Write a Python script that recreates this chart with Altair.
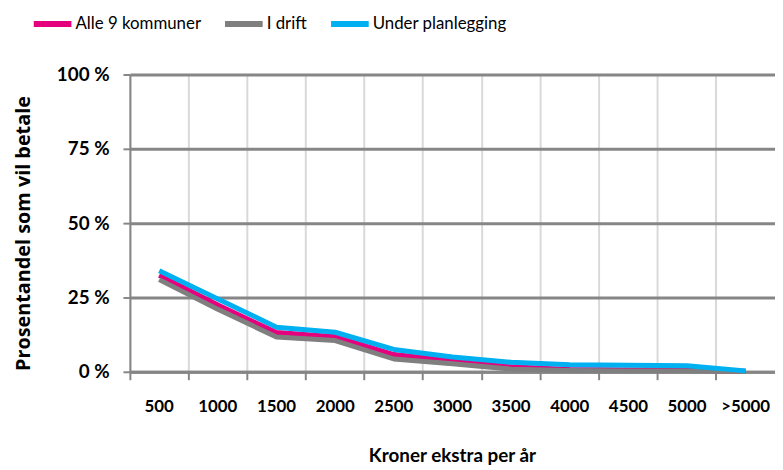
import altair as alt
import pandas as pd

categories = ["500", "1000", "1500", "2000", "2500", "3000", "3500", "4000", "4500", "5000", ">5000"]
series_names = ["Alle 9 kommuner", "I drift", "Under planlegging"]
alle_9 = [32.5, 22.5, 13.2, 11.8, 5.8, 3.8, 1.7, 0.8, 0.6, 0.6, 0.2]
i_drift = [31.0, 21.0, 11.7, 10.5, 4.3, 2.7, 0.9, 0.4, 0.3, 0.3, 0.1]
under_planlegging = [34.0, 24.5, 15.0, 13.3, 7.5, 5.0, 3.2, 2.4, 2.2, 2.0, 0.3]
y_ticks = [0, 25, 50, 75, 100]
colors = ["#e5007d", "#7f7f7f", "#00b0f0"]

rows = []
for name, vals in zip(series_names, [alle_9, i_drift, under_planlegging]):
    for c, v in zip(categories, vals):
        rows.append({"kategori": c, "serie": name, "verdi": v, "ord": series_names.index(name)})
df = pd.DataFrame(rows)

FONT = "Lato"

chart = alt.Chart(df).mark_line(strokeWidth=5, strokeJoin="round").encode(
    x=alt.X(
        "kategori:N",
        sort=categories,
        bandPosition=0.5,
        scale=alt.Scale(type="band", paddingInner=0, paddingOuter=0),
        axis=alt.Axis(
            title="Kroner ekstra per år",
            labelAngle=0,
            bandPosition=0,
            grid=True,
            gridColor="#d9d9d9",
            gridWidth=2,
            domainColor="#868686",
            domainWidth=3,
            tickColor="#868686",
            tickWidth=2,
            tickSize=8,
            labelPadding=19,
            labelFont=FONT,
            labelFontSize=17,
            labelFontWeight="bold",
            labelColor="#000000",
            titleFont=FONT,
            titleFontSize=19,
            titleFontWeight="bold",
            titleColor="#000000",
            titleX=325,
            titleY=85,
            titleBaseline="middle",
        ),
    ),
    y=alt.Y(
        "verdi:Q",
        scale=alt.Scale(domain=[0, 100], nice=False),
        axis=alt.Axis(
            title="Prosentandel som vil betale",
            values=y_ticks,
            labelExpr="datum.value + ' %'",
            grid=True,
            gridColor="#868686",
            gridWidth=3,
            domainColor="#868686",
            domainWidth=2,
            tickColor="#868686",
            tickWidth=2,
            tickSize=7,
            labelPadding=14,
            labelFont=FONT,
            labelFontSize=19,
            labelFontWeight="bold",
            labelColor="#000000",
            titleFont="Open Sans",
            titleFontSize=20,
            titleFontWeight="bold",
            titleColor="#000000",
            titleX=-107,
            titleY=160,
            titleBaseline="middle",
            titleAngle=270,
        ),
    ),
    color=alt.Color(
        "serie:N",
        sort=series_names,
        scale=alt.Scale(domain=series_names, range=colors),
        legend=alt.Legend(
            title=None,
            orient="none",
            direction="horizontal",
            legendX=-100,
            legendY=-73,
            symbolType="stroke",
            symbolStrokeWidth=6,
            symbolSize=1444,
            labelFont=FONT,
            labelFontSize=17,
            labelColor="#000000",
            labelOffset=1,
            columnPadding=12,
        ),
    ),
    order=alt.Order("ord:Q"),
).properties(
    width=651,
    height=300,
    autosize=alt.AutoSizeParams(type="none"),
    padding={"left": 123, "top": 65, "right": 0, "bottom": 97},
).configure_view(
    stroke="#d9d9d9", strokeWidth=2
).configure(background="#ffffff")

chart.save("out.html", embed_options={"renderer": "svg", "actions": False})
